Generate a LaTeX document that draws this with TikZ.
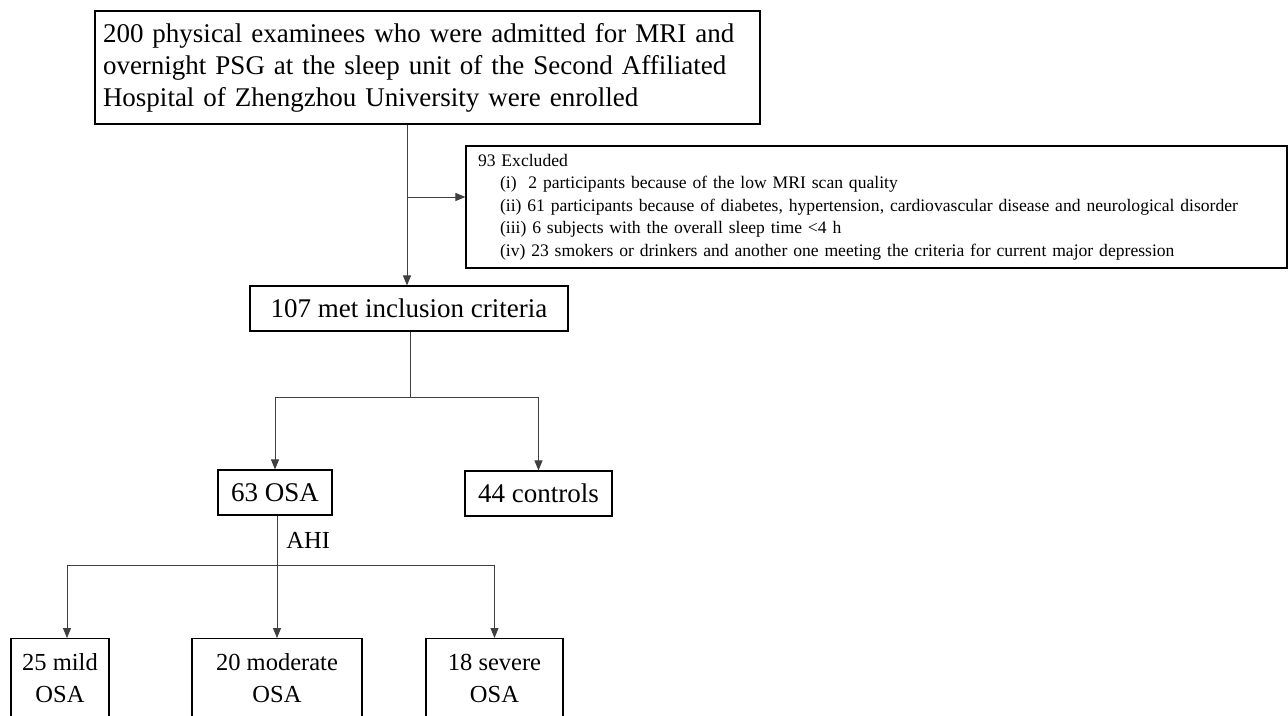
\documentclass[tikz,border=0pt]{standalone}
\usepackage{fontspec}
\setmainfont{Liberation Serif}
\usetikzlibrary{arrows.meta}

\newcommand{\bigtxt}{\fontsize{27}{32}\selectfont}
\newcommand{\midtxt}{\fontsize{24.5}{32}\selectfont}
\newcommand{\smalltxt}{\fontsize{17.6}{22.5}\selectfont}

\tikzset{
  box/.style={draw, line width=1.1pt, inner sep=0pt, align=center, font=\bigtxt},
  group/.style={box, minimum height=80pt, anchor=north, font=\midtxt},
  link/.style={draw=black!75, line width=0.9pt},
  arr/.style={link, -{Triangle[length=10pt,width=8pt]}}
}

\begin{document}
\begin{tikzpicture}[x=1pt,y=-1pt]
\useasboundingbox (0,0) rectangle (1288,715);
\clip (0,0) rectangle (1288,715);

% boxes
\node[box, text width=649pt, inner xsep=8pt, minimum height=113pt, align=left] (enrol) at (427.5,67.5)
  {200 physical examinees who were admitted for MRI and\\
   overnight PSG at the sleep unit of the Second Affiliated\\
   Hospital of Zhengzhou University were enrolled};
\node[box, text width=797pt, inner xsep=12pt, minimum height=122pt, align=left, font=\smalltxt] (excl) at (876.5,207)
  {93 Excluded\\
   \hspace*{22pt}(i)\ \ 2 participants because of the low MRI scan quality\\
   \hspace*{22pt}(ii) 61 participants because of diabetes, hypertension, cardiovascular disease and neurological disorder\\
   \hspace*{22pt}(iii) 6 subjects with the overall sleep time <4 h\\
   \hspace*{22pt}(iv) 23 smokers or drinkers and another one meeting the criteria for current major depression};
\node[box, minimum width=318pt, minimum height=45pt] (incl) at (409,308.5) {107 met inclusion criteria};
\node[box, minimum width=114pt, minimum height=45pt] (osa) at (275,492.5) {63 OSA};
\node[box, minimum width=147pt, minimum height=45pt] (ctrl) at (538.5,493.5) {44 controls};
\node[group, minimum width=98pt] (mild) at (60,638) {25 mild\\OSA};
\node[group, minimum width=170pt] (mod) at (277,638) {20 moderate\\OSA};
\node[group, minimum width=137pt] (sev) at (494.5,638) {18 severe\\OSA};

% connectors
\coordinate (j1) at (407,197);
\coordinate (s1) at (410,397);
\coordinate (s2) at (277,565);
\coordinate (m1) at (67,565);
\draw[arr] (enrol.south -| j1) -- (incl.north -| j1);
\draw[arr] (j1) -- (excl.west |- j1);
\draw[link] (incl.south -| s1) -- (s1);
\draw[arr] (s1) -| (osa.north);
\draw[arr] (s1) -| (ctrl.north);
\draw[link] (osa.south -| s2) -- (s2) node[midway, right=9pt, font=\midtxt, inner sep=0pt] (ahi) {AHI};
\draw[arr] (s2) -- (mod.north);
\draw[arr] (m1) -- (mild.north -| m1);
\draw[arr] (m1) -| (sev.north);
\end{tikzpicture}
\end{document}
